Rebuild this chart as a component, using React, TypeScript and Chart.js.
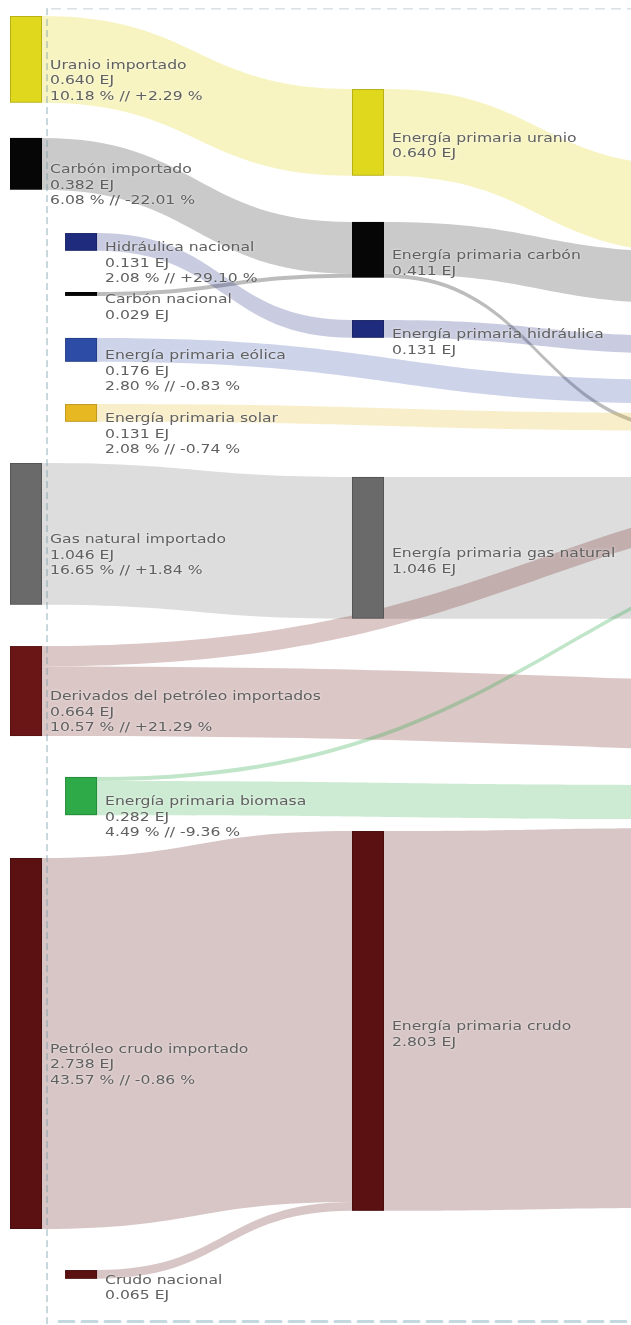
import { useEffect, useRef } from 'react';
import { Chart, registerables } from 'chart.js';

Chart.register(...registerables);

const W = 631;
const H = 1325;

// ---- data ----
const nodeNames = [
  'Uranio importado', 'Carbón importado', 'Hidráulica nacional', 'Carbón nacional',
  'Energía primaria eólica', 'Energía primaria solar', 'Gas natural importado',
  'Derivados del petróleo importados', 'Energía primaria biomasa', 'Petróleo crudo importado',
  'Crudo nacional',
  'Energía primaria uranio', 'Energía primaria carbón', 'Energía primaria hidráulica',
  'Energía primaria gas natural', 'Energía primaria crudo',
  // destinations outside the visible frame
  '', '', '', '', '', '', '', '', '', '', '', '',
];
const nodeValues = [
  0.640, 0.382, 0.131, 0.029, 0.176, 0.131, 1.046, 0.664, 0.282, 2.738, 0.065,
  0.640, 0.411, 0.131, 1.046, 2.803,
  0.640, 0.382, 0.029, 0.131, 1.046, 2.803, 0.176, 0.131, 0.150, 0.514, 0.030, 0.252,
];
const nodeShares = [
  '10.18 % // +2.29 %', '6.08 % // -22.01 %', '2.08 % // +29.10 %', '',
  '2.80 % // -0.83 %', '2.08 % // -0.74 %', '16.65 % // +1.84 %',
  '10.57 % // +21.29 %', '4.49 % // -9.36 %', '43.57 % // -0.86 %', '',
  '', '', '', '', '',
  '', '', '', '', '', '', '', '', '', '', '', '',
];

const linkSource = [0, 1, 3, 2, 6, 9, 10, 11, 12, 12, 13, 14, 15, 4, 5, 7, 7, 8, 8];
const linkTarget = [11, 12, 12, 13, 14, 15, 15, 16, 17, 18, 19, 20, 21, 22, 23, 24, 25, 26, 27];
const linkValues = [
  0.640, 0.382, 0.029, 0.131, 1.046, 2.738, 0.065,
  0.640, 0.382, 0.029, 0.131, 1.046, 2.803,
  0.176, 0.131, 0.150, 0.514, 0.030, 0.252,
];

// ---- layout (column index, top in EJ units) ----
const nodeColumn = [
  0, 0, 0.161, 0.161, 0.161, 0.161, 0, 0, 0.161, 0, 0.161,
  1, 1, 1, 1, 1,
  2, 2, 2, 2, 2, 2, 2, 2, 3, 3, 3, 2,
];
const nodeTop = [
  0.118, 1.018, 1.720, 2.155, 2.494, 2.982, 3.417, 4.768, 5.734, 6.332, 9.373,
  0.657, 1.638, 2.362, 3.520, 6.133,
  1.225, 1.860, 3.159, 2.480, 3.520, 6.111, 2.804, 3.048, 3.480, 5.050, 3.750, 5.793,
];

// ---- styles ----
const C_URANIO = '#e0d81c';
const C_CARBON = '#060606';
const C_HIDRO = '#1f2b7c';
const C_EOLICA = '#2d4ca6';
const C_SOLAR = '#e8b822';
const C_GAS = '#6a6a6a';
const C_DERIV = '#6b1616';
const C_BIO = '#2eaa48';
const C_CRUDO = '#5b1111';
const nodeColors = [
  C_URANIO, C_CARBON, C_HIDRO, C_CARBON, C_EOLICA, C_SOLAR, C_GAS, C_DERIV, C_BIO, C_CRUDO, C_CRUDO,
  C_URANIO, C_CARBON, C_HIDRO, C_GAS, C_CRUDO,
  C_URANIO, C_CARBON, C_CARBON, C_HIDRO, C_GAS, C_CRUDO, C_EOLICA, C_SOLAR, C_DERIV, C_DERIV, C_BIO, C_BIO,
];
const linkAlphaByColor: Record<string, number> = {
  [C_URANIO]: 0.27, [C_CARBON]: 0.21, [C_HIDRO]: 0.24, [C_EOLICA]: 0.24, [C_SOLAR]: 0.24,
  [C_GAS]: 0.23, [C_DERIV]: 0.24, [C_BIO]: 0.24, [C_CRUDO]: 0.24,
};

const PX_PER_EJ = 135.5;
const COL_STEP = 342;
const COL0_PX = 10;
const NODE_W = 32 / COL_STEP;

function hexToRgba(hex: string, a: number) {
  const n = parseInt(hex.slice(1), 16);
  return `rgba(${(n >> 16) & 255},${(n >> 8) & 255},${n & 255},${a})`;
}

const sankeyPlugin = {
  id: 'sankeyDraw',
  afterDatasetsDraw(chart: any) {
    const ctx: CanvasRenderingContext2D = chart.ctx;
    const xs = chart.scales.x;
    const ys = chart.scales.y;
    const px = (v: number) => xs.getPixelForValue(v);
    const py = (v: number) => ys.getPixelForValue(v);

    const outOff = nodeValues.map(() => 0);
    const inOff = nodeValues.map(() => 0);

    ctx.save();
    // links
    for (let i = 0; i < linkValues.length; i++) {
      const s = linkSource[i];
      const t = linkTarget[i];
      const v = linkValues[i];
      const x0 = px(nodeColumn[s] + NODE_W);
      const x1 = px(nodeColumn[t]);
      const sy0 = py(nodeTop[s] + outOff[s]);
      const sy1 = py(nodeTop[s] + outOff[s] + v);
      const ty0 = py(nodeTop[t] + inOff[t]);
      const ty1 = py(nodeTop[t] + inOff[t] + v);
      outOff[s] += v;
      inOff[t] += v;
      const xm = (x0 + x1) / 2;
      ctx.beginPath();
      ctx.moveTo(x0, sy0);
      ctx.bezierCurveTo(xm, sy0, xm, ty0, x1, ty0);
      ctx.lineTo(x1, ty1);
      ctx.bezierCurveTo(xm, ty1, xm, sy1, x0, sy1);
      ctx.closePath();
      const a = linkAlphaByColor[nodeColors[s]] ?? 0.24;
      ctx.fillStyle = hexToRgba(nodeColors[s], v < 0.05 ? a + 0.06 : a);
      ctx.fill();
    }

    // frame dashes
    const xLine = px(nodeColumn[0]) + 37;
    ctx.setLineDash([7, 4]);
    ctx.strokeStyle = 'rgba(110,150,160,0.75)';
    ctx.lineWidth = 1;
    ctx.beginPath();
    ctx.moveTo(xLine, py(0.06));
    ctx.lineTo(xLine, py(9.78));
    ctx.stroke();

    ctx.setLineDash([10, 6]);
    ctx.strokeStyle = 'rgba(185,198,208,0.7)';
    ctx.lineWidth = 1.2;
    ctx.beginPath();
    ctx.moveTo(xLine + 4, py(0.066));
    ctx.lineTo(W, py(0.066));
    ctx.stroke();

    ctx.setLineDash([15, 8]);
    ctx.strokeStyle = 'rgba(190,212,220,0.9)';
    ctx.lineWidth = 3;
    ctx.lineCap = 'round';
    ctx.beginPath();
    ctx.moveTo(xLine + 12, py(9.752));
    ctx.lineTo(W, py(9.752));
    ctx.stroke();
    ctx.setLineDash([]);
    ctx.lineCap = 'butt';

    // nodes
    for (let i = 0; i < nodeValues.length; i++) {
      const x0 = px(nodeColumn[i]);
      const x1 = px(nodeColumn[i] + NODE_W);
      const y0 = py(nodeTop[i]);
      const y1 = py(nodeTop[i] + nodeValues[i]);
      ctx.fillStyle = nodeColors[i];
      ctx.fillRect(x0, y0, x1 - x0, y1 - y0);
      ctx.strokeStyle = 'rgba(0,0,0,0.18)';
      ctx.lineWidth = 1;
      ctx.strokeRect(x0 + 0.5, y0 + 0.5, x1 - x0 - 1, y1 - y0 - 1);
    }

    // labels
    ctx.font = '13px "DejaVu Sans", sans-serif';
    ctx.textBaseline = 'middle';
    ctx.textAlign = 'left';
    ctx.fillStyle = '#606060';
    ctx.shadowColor = 'rgba(255,255,255,0.7)';
    ctx.shadowBlur = 3;
    for (let i = 0; i < nodeValues.length; i++) {
      if (!nodeNames[i]) continue;
      const x = px(nodeColumn[i] + NODE_W) + 8;
      const yc = (py(nodeTop[i]) + py(nodeTop[i] + nodeValues[i])) / 2 + 6;
      const lines = [nodeNames[i], nodeValues[i].toFixed(3) + ' EJ'];
      if (nodeShares[i]) lines.push(nodeShares[i]);
      lines.forEach((ln, k) => {
        ctx.save();
        ctx.translate(x, yc + k * 15.5);
        ctx.scale(1.2, 1);
        ctx.fillText(ln, 0, 0);
        ctx.restore();
      });
    }
    ctx.restore();
  },
};

export default function App() {
  const ref = useRef<HTMLCanvasElement>(null);
  useEffect(() => {
    document.body.style.margin = '0';
    const canvas = ref.current!;
    const chart = new Chart(canvas, {
      type: 'scatter',
      data: { datasets: [{ data: [], pointRadius: 0 }] },
      options: {
        animation: false,
        responsive: false,
        maintainAspectRatio: false,
        events: [],
        layout: { padding: 0 },
        plugins: { legend: { display: false }, tooltip: { enabled: false } },
        scales: {
          x: { type: 'linear', display: false, min: -COL0_PX / COL_STEP, max: (W - COL0_PX) / COL_STEP },
          y: { type: 'linear', display: false, reverse: true, min: 0, max: H / PX_PER_EJ },
        },
      },
      plugins: [sankeyPlugin],
    });
    return () => chart.destroy();
  }, []);
  return (
    <div style={{ width: W, height: H, background: '#fff' }}>
      <canvas ref={ref} width={W} height={H} style={{ display: 'block' }} />
    </div>
  );
}
